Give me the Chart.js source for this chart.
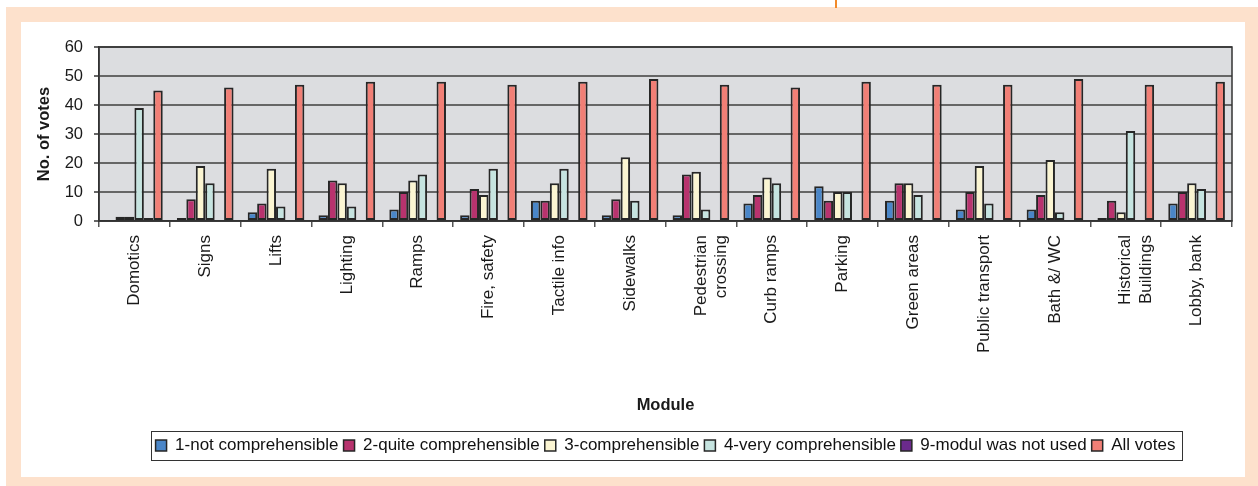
<!DOCTYPE html>
<html>
<head>
<meta charset="utf-8">
<script src="https://cdn.jsdelivr.net/npm/chart.js@4.4.1/dist/chart.umd.min.js"></script>
<style>
  html, body { margin: 0; padding: 0; background: #ffffff; }
  #page { position: relative; width: 1258px; height: 486px; overflow: hidden; }
  #frame { position: absolute; left: 6px; top: 7px; width: 1252px; height: 479px; background: #fde1cc; }
  #panel { position: absolute; left: 21px; top: 22px; width: 1224px; height: 455px; background: #ffffff; }
  #mark { position: absolute; left: 835px; top: 0; width: 2px; height: 8px; background: #f28a2a; }
  #chart { position: absolute; left: 0; top: 0; }
</style>
</head>
<body>
<div id="page">
  <div id="frame"></div>
  <div id="panel"></div>
  <div id="mark"></div>
  <canvas id="chart" width="1258" height="486"></canvas>
</div>
<script>
// Modules rated by the evaluators
const modules = [
  'Domotics', 'Signs', 'Lifts', 'Lighting', 'Ramps', 'Fire, safety', 'Tactile info',
  'Sidewalks', ['Pedestrian', 'crossing'], 'Curb ramps', 'Parking', 'Green areas',
  'Public transport', 'Bath &/ WC', ['Historical', 'Buildings'], 'Lobby, bank'
];

// Votes per comprehensibility rating
const notComprehensible   = [0, 1, 3, 2, 4, 2, 7, 2, 2, 6, 12, 7, 4, 4, 1, 6];
const quiteComprehensible = [1.5, 7.5, 6, 14, 10, 11, 7, 7.5, 16, 9, 7, 13, 10, 9, 7, 10];
const comprehensible      = [1.5, 19, 18, 13, 14, 9, 13, 22, 17, 15, 10, 13, 19, 21, 3, 13];
const veryComprehensible  = [39, 13, 5, 5, 16, 18, 18, 7, 4, 13, 10, 9, 6, 3, 31, 11];
const moduleNotUsed       = [1, 0, 0, 0, 0, 0, 0, 0, 0, 0, 0, 0, 0, 0, 0, 0];
const allVotes            = [45, 46, 47, 48, 48, 47, 48, 49, 47, 46, 48, 47, 47, 49, 47, 48];

const yTicks = [0, 10, 20, 30, 40, 50, 60];

const seriesNames  = ['1-not comprehensible', '2-quite comprehensible', '3-comprehensible',
                      '4-very comprehensible', '9-modul was not used', 'All votes'];
const seriesValues = [notComprehensible, quiteComprehensible, comprehensible,
                      veryComprehensible, moduleNotUsed, allVotes];
const seriesColors = ['#4a86c8', '#b8336e', '#fbf5d2', '#c6e4e0', '#6b2a8c', '#f17f76'];

const FONT = '"Liberation Sans", Arial, sans-serif';
const OUTLINE = '#262626';

// Grey plot background and a frame around the plotting area
const plotFrame = {
  id: 'plotFrame',
  beforeDraw(chart) {
    const {ctx, chartArea: a} = chart;
    ctx.save();
    ctx.fillStyle = '#dcdde0';
    ctx.fillRect(a.left, a.top, a.right - a.left, a.bottom - a.top);
    ctx.restore();
  },
  afterDraw(chart) {
    const {ctx, chartArea: a} = chart;
    ctx.save();
    ctx.strokeStyle = '#333333';
    ctx.lineWidth = 1.5;
    ctx.strokeRect(a.left, a.top, a.right - a.left, a.bottom - a.top);
    ctx.restore();
  }
};

// Centre the legend under the plotting area instead of the whole canvas
const legendUnderPlot = {
  id: 'legendUnderPlot',
  afterLayout(chart) {
    const lg = chart.legend;
    if (!lg) return;
    const a = chart.chartArea;
    lg.left += (a.left + a.right) - (lg.left + lg.right);
  }
};

// Thin box drawn around the legend items
const legendFrame = {
  id: 'legendFrame',
  afterDraw(chart) {
    const boxes = chart.legend && chart.legend.legendHitBoxes;
    if (!boxes || !boxes.length) return;
    let l = Infinity, r = -Infinity, t = Infinity, b = -Infinity;
    boxes.forEach(h => {
      l = Math.min(l, h.left); r = Math.max(r, h.left + h.width);
      t = Math.min(t, h.top);  b = Math.max(b, h.top + h.height);
    });
    const {ctx} = chart;
    ctx.save();
    ctx.strokeStyle = '#333333';
    ctx.lineWidth = 1;
    ctx.strokeRect(Math.round(l - 5) + 0.5, Math.round(t - 6) + 0.5,
                   Math.round(r - l + 11), Math.round(b - t + 12));
    ctx.restore();
  }
};

// Bars with no votes are left fully invisible
const isEmpty = (c) => c.type === 'data' && !c.raw;

new Chart(document.getElementById('chart'), {
  type: 'bar',
  data: {
    labels: modules,
    datasets: seriesNames.map((name, i) => ({
      label: name,
      data: seriesValues[i],
      backgroundColor: (c) => isEmpty(c) ? 'rgba(0,0,0,0)' : seriesColors[i],
      borderColor: (c) => isEmpty(c) ? 'rgba(0,0,0,0)' : OUTLINE,
      borderWidth: (c) => isEmpty(c) ? 0 : 2,
      borderSkipped: false,
      categoryPercentage: 0.8,
      barPercentage: 1.0
    }))
  },
  options: {
    responsive: false,
    animation: false,
    devicePixelRatio: 1,
    layout: { padding: { left: 20, top: 47, right: 26, bottom: 22 } },
    plugins: {
      tooltip: { enabled: false },
      legend: {
        position: 'bottom',
        labels: {
          boxWidth: 11,
          boxHeight: 11,
          padding: 5,
          color: '#111111',
          font: { family: FONT, size: 17 },
          generateLabels(chart) {
            return chart.data.datasets.map((ds, i) => ({
              text: ds.label,
              fillStyle: seriesColors[i],
              strokeStyle: OUTLINE,
              lineWidth: 1.5,
              hidden: !chart.isDatasetVisible(i),
              datasetIndex: i,
              fontColor: '#111111'
            }));
          }
        }
      }
    },
    scales: {
      x: {
        grid: {
          display: true,
          drawOnChartArea: false,
          drawTicks: true,
          tickLength: 6,
          color: '#555555',
          lineWidth: 1.5,
          offset: true
        },
        border: { display: true, color: '#333333', width: 1.5 },
        ticks: {
          minRotation: 90,
          maxRotation: 90,
          autoSkip: false,
          padding: 8,
          color: '#1a1a1a',
          font: { family: FONT, size: 17 }
        },
        title: {
          display: true,
          text: 'Module',
          color: '#1a1a1a',
          font: { family: FONT, size: 16.5, weight: 'bold' },
          padding: { top: 0, bottom: 17 }
        },
        afterFit(scale) { scale.height = 211; }
      },
      y: {
        min: 0,
        max: 60,
        afterBuildTicks(scale) { scale.ticks = yTicks.map(v => ({value: v})); },
        grid: {
          color: '#666666',
          lineWidth: 2,
          drawTicks: true,
          tickLength: 5
        },
        border: { display: true, color: '#333333', width: 1.5 },
        ticks: {
          padding: 11,
          color: '#1a1a1a',
          font: { family: FONT, size: 16.5 }
        },
        title: {
          display: true,
          text: 'No. of votes',
          color: '#1a1a1a',
          font: { family: FONT, size: 16.5, weight: 'bold' },
          padding: { top: 15, bottom: 0 }
        },
        afterFit(scale) { scale.width = 79; }
      }
    }
  },
  plugins: [plotFrame, legendUnderPlot, legendFrame]
});
</script>
</body>
</html>
